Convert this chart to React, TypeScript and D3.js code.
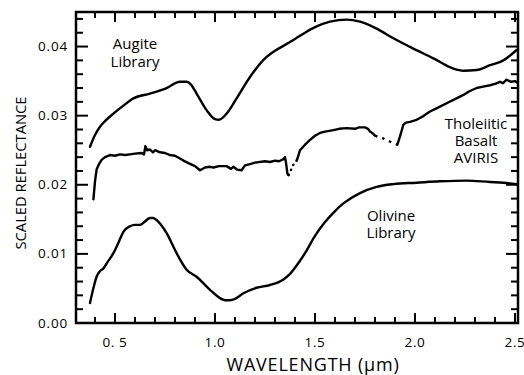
import React from "react";
import * as d3 from "d3";

const augiteX = [0.375,0.40,0.425,0.45,0.492,0.54,0.592,0.675,0.758,0.825,0.858,0.88,0.908,0.958,1.0,1.02,1.058,1.108,1.175,1.258,1.30,1.342,1.40,1.45,1.50,1.575,1.658,1.725,1.808,1.892,1.992,2.092,2.192,2.242,2.308,2.375,2.442,2.508];
const augiteY = [0.0255,0.0272,0.0284,0.0292,0.0303,0.0314,0.0325,0.0332,0.0340,0.0349,0.0349,0.0345,0.0332,0.0308,0.0295,0.0294,0.0303,0.0325,0.0356,0.0385,0.0394,0.0401,0.0411,0.0420,0.0428,0.0436,0.0439,0.0436,0.0426,0.0412,0.0397,0.0383,0.0368,0.0365,0.0366,0.0373,0.0380,0.0395];

const basaltAX = [0.392,0.400,0.408,0.42,0.433,0.45,0.475,0.50,0.525,0.55,0.575,0.60,0.633,0.645,0.652,0.66,0.675,0.69,0.70,0.725,0.75,0.775,0.80,0.825,0.842,0.87,0.90,0.925,0.95,0.975,0.992,1.02,1.058,1.08,1.092,1.11,1.133,1.15,1.175,1.20,1.25,1.275,1.30,1.32,1.342,1.35,1.355,1.362,1.368];
const basaltAY = [0.0179,0.0205,0.0222,0.0230,0.0236,0.0240,0.0243,0.0242,0.0244,0.0243,0.0244,0.0245,0.0246,0.0244,0.0256,0.0250,0.0251,0.0247,0.0250,0.0247,0.0246,0.0243,0.0242,0.0238,0.0235,0.0231,0.0227,0.0221,0.0225,0.0226,0.0225,0.0227,0.0227,0.0223,0.0226,0.0222,0.0221,0.0228,0.0230,0.0232,0.0234,0.0233,0.0235,0.0234,0.0237,0.0240,0.0232,0.0216,0.0214];
const basaltGap1X = [1.368,1.392,1.41];
const basaltGap1Y = [0.0214,0.0229,0.0236];
const basaltBX = [1.41,1.425,1.45,1.475,1.50,1.525,1.55,1.592,1.62,1.658,1.70,1.72,1.75,1.765,1.775,1.79,1.80];
const basaltBY = [0.0236,0.0250,0.0258,0.0265,0.0271,0.0275,0.0277,0.0279,0.0281,0.0282,0.0281,0.0283,0.0283,0.0281,0.0277,0.0274,0.0271];
const basaltGap2X = [1.80,1.842,1.892,1.912];
const basaltGap2Y = [0.0271,0.0267,0.0260,0.0258];
const basaltCX = [1.912,1.925,1.935,1.942,1.955,1.975,2.008,2.04,2.075,2.11,2.158,2.20,2.242,2.27,2.308,2.34,2.375,2.40,2.425,2.44,2.458,2.48,2.50,2.51];
const basaltCY = [0.0258,0.0270,0.0280,0.0287,0.0290,0.0291,0.0294,0.0299,0.0306,0.0311,0.0318,0.0324,0.0330,0.0335,0.0340,0.0342,0.0344,0.0346,0.0349,0.0347,0.0352,0.0349,0.0350,0.0348];

const olivineX = [0.375,0.39,0.408,0.425,0.442,0.46,0.492,0.52,0.542,0.575,0.60,0.625,0.65,0.675,0.69,0.708,0.73,0.758,0.808,0.858,0.908,0.975,1.025,1.05,1.075,1.10,1.142,1.208,1.275,1.342,1.375,1.40,1.425,1.45,1.50,1.55,1.60,1.642,1.725,1.808,1.892,2.008,2.125,2.258,2.375,2.442,2.51];
const olivineY = [0.0029,0.0048,0.0067,0.0075,0.0079,0.0087,0.0101,0.0118,0.0132,0.0140,0.0142,0.0142,0.0147,0.0152,0.0152,0.0149,0.0142,0.0130,0.0101,0.0077,0.0067,0.0048,0.0036,0.0033,0.0033,0.0035,0.0043,0.0051,0.0055,0.0063,0.0071,0.0080,0.0090,0.0101,0.0126,0.0146,0.0162,0.0173,0.0188,0.0197,0.0201,0.0203,0.0205,0.0206,0.0204,0.0203,0.0201];

const xMajor = [0.5, 1.0, 1.5, 2.0, 2.5];
const xMajorLabels = ["0. 5", "1.0", "1.5", "2.0", "2.5"];
const xMinor = [0.4,0.6,0.7,0.8,0.9,1.1,1.2,1.3,1.4,1.6,1.7,1.8,1.9,2.1,2.2,2.3,2.4];
const yMajor = [0, 0.01, 0.02, 0.03, 0.04];
const yMajorLabels = ["0.00", "0.01", "0.02", "0.03", "0.04"];
const yMinor = [0.002,0.004,0.006,0.008,0.012,0.014,0.016,0.018,0.022,0.024,0.026,0.028,0.032,0.034,0.036,0.038,0.042,0.044];

const L = 76, R = 518, T = 12, B = 323;
const FONT = "'Open Sans', sans-serif";

export default function App() {
  const x = d3.scaleLinear().domain([0.305, 2.515]).range([L, R]);
  const y = d3.scaleLinear().domain([0, 0.045]).range([B, T]);
  const mk = (xs: number[], ys: number[], curve: any) =>
    d3.line<number>().x((_, i) => x(xs[i])).y((_, i) => y(ys[i])).curve(curve)(xs) || "";
  const lw = 2.4;
  return (
    <svg width={524} height={375} style={{ position: "absolute", left: 0, top: 0, background: "#fff" }}>
      <g fill="none" stroke="#000" strokeLinejoin="round" strokeLinecap="round">
        <path d={mk(augiteX, augiteY, d3.curveMonotoneX)} strokeWidth={lw} />
        <path d={mk(olivineX, olivineY, d3.curveMonotoneX)} strokeWidth={lw} />
        <path d={mk(basaltAX, basaltAY, d3.curveLinear)} strokeWidth={lw} />
        <path d={mk(basaltGap1X, basaltGap1Y, d3.curveLinear)} strokeWidth={lw} strokeDasharray="0.5,5" />
        <path d={mk(basaltBX, basaltBY, d3.curveLinear)} strokeWidth={lw} />
        <path d={mk(basaltGap2X, basaltGap2Y, d3.curveLinear)} strokeWidth={lw} strokeDasharray="2.5,5" strokeLinecap="butt" />
        <path d={mk(basaltCX, basaltCY, d3.curveLinear)} strokeWidth={lw} />
      </g>
      <g stroke="#000" strokeWidth={2}>
        {xMajor.map((v) => (
          <g key={"xM" + v}>
            <line x1={x(v)} x2={x(v)} y1={B} y2={B - 10} />
            <line x1={x(v)} x2={x(v)} y1={T} y2={T + 10} />
          </g>
        ))}
        {xMinor.map((v) => (
          <g key={"xm" + v}>
            <line x1={x(v)} x2={x(v)} y1={B} y2={B - 6} />
            <line x1={x(v)} x2={x(v)} y1={T} y2={T + 6} />
          </g>
        ))}
        {yMajor.map((v) => (
          <g key={"yM" + v}>
            <line x1={L} x2={L + 12} y1={y(v)} y2={y(v)} />
            <line x1={R} x2={R - 12} y1={y(v)} y2={y(v)} />
          </g>
        ))}
        {yMinor.map((v) => (
          <g key={"ym" + v}>
            <line x1={L} x2={L + 7} y1={y(v)} y2={y(v)} />
            <line x1={R} x2={R - 7} y1={y(v)} y2={y(v)} />
          </g>
        ))}
      </g>
      <rect x={L} y={T} width={R - L} height={B - T} fill="none" stroke="#000" strokeWidth={2.5} />
      <g fontFamily={FONT} fontSize={13.5} fill="#000">
        {xMajor.map((v, i) => (
          <text key={"xl" + v} x={x(v)} y={347} textAnchor="middle" letterSpacing={0.6}>{xMajorLabels[i]}</text>
        ))}
        {yMajor.map((v, i) => (
          <text key={"yl" + v} x={68} y={y(v) + 4.5} textAnchor="end" letterSpacing={0.8}>{yMajorLabels[i]}</text>
        ))}
      </g>
      <text x={313} y={371} textAnchor="middle" fontFamily={FONT} fontSize={18} letterSpacing={0.8}>WAVELENGTH (µm)</text>
      <text transform="translate(26,173) rotate(-90)" textAnchor="middle" fontFamily={FONT} fontSize={15} textLength={153} lengthAdjust="spacingAndGlyphs">SCALED REFLECTANCE</text>
      <g fontFamily={FONT} fontSize={15} textAnchor="middle" fill="#000">
        <text x={135} y={49}>Augite</text>
        <text x={135} y={67}>Library</text>
        <text x={476} y={129}>Tholeiitic</text>
        <text x={476} y={146}>Basalt</text>
        <text x={476} y={163}>AVIRIS</text>
        <text x={391} y={221}>Olivine</text>
        <text x={391} y={238}>Library</text>
      </g>
    </svg>
  );
}
